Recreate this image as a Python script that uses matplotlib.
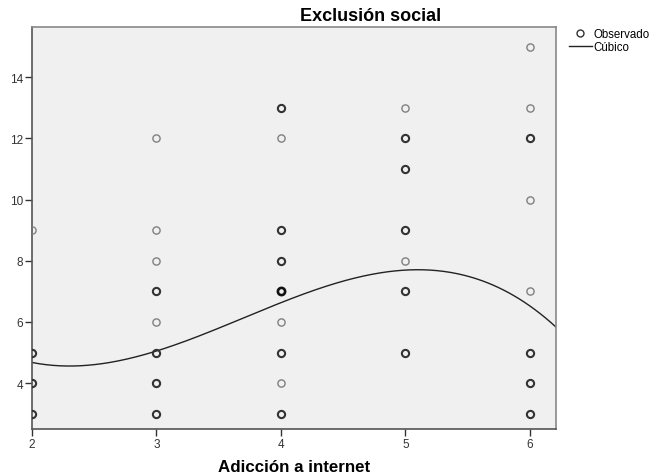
import numpy as np
import matplotlib
matplotlib.use("Agg")
import matplotlib.pyplot as plt
from matplotlib.lines import Line2D

plt.rcParams['font.family'] = ['Liberation Sans', 'DejaVu Sans']

# observed points (x, y) and how heavy the marker looks (1 = single, 2 = overlapping)
obs_x = [2, 2, 2, 2,
         3, 3, 3, 3, 3, 3, 3, 3,
         4, 4, 4, 4, 4, 4, 4, 4, 4,
         5, 5, 5, 5, 5, 5, 5,
         6, 6, 6, 6, 6, 6, 6, 6]
obs_y = [9, 5, 4, 3,
         12, 9, 8, 7, 6, 5, 4, 3,
         13, 12, 9, 8, 7, 6, 5, 4, 3,
         13, 12, 11, 9, 8, 7, 5,
         15, 13, 12, 10, 7, 5, 4, 3]
obs_n = [1, 2, 2, 2,
         1, 1, 1, 2, 1, 2, 2, 2,
         2, 1, 2, 2, 3, 1, 2, 1, 2,
         1, 2, 2, 2, 1, 2, 2,
         1, 1, 2, 1, 1, 2, 2, 2]

# points
curve_x = [2.0, 2.3, 3.0, 4.0, 5.1, 6.21]
curve_y = [4.68, 4.57, 5.0, 6.69, 7.67, 5.84]

xticks = [2, 3, 4, 5, 6]
yticks = [4, 6, 8, 10, 12, 14]

fig = plt.figure(figsize=(6.6, 4.77), dpi=100)
ax = fig.add_axes([0.0485, 0.0985, 0.7939, 0.8435])
ax.set_facecolor('#f0f0f0')

obs_x = np.array(obs_x)
obs_y = np.array(obs_y)
obs_n = np.array(obs_n)
styles = {1: ('#808080', 1.0), 2: ('#333333', 1.5), 3: ('#111111', 1.9)}
for n, (col, lw) in styles.items():
    m = obs_n == n
    ax.plot(obs_x[m], obs_y[m], 'o', mfc='none', mec=col, mew=lw, ms=5.2,
            linestyle='none', clip_on=True, zorder=3)

coef = np.polyfit(curve_x, curve_y, 3)
xs = np.linspace(2.0, 6.21, 300)
ax.plot(xs, np.polyval(coef, xs), color='#222222', lw=1.0, zorder=2)

ax.set_xlim(2.0, 6.21)
ax.set_ylim(2.5, 15.65)
ax.set_xticks(xticks)
ax.set_yticks(yticks)
ax.tick_params(axis='both', direction='out', length=5, width=1,
               labelsize=8.5, colors='#333333', pad=1.5)
for s in ['left', 'bottom']:
    ax.spines[s].set_color('#555555')
    ax.spines[s].set_linewidth(1.2)
for s in ['top', 'right']:
    ax.spines[s].set_color('#888888')
    ax.spines[s].set_linewidth(1.2)

fig.text(0.562, 0.966, 'Exclusión social', ha='center', va='center',
         fontsize=13, fontweight='bold')
fig.text(0.445, 0.019, 'Adicción a internet', ha='center', va='center',
         fontsize=12.2, fontweight='bold')

handles = [Line2D([], [], marker='o', mfc='none', mec='#333333', ms=5,
                  linestyle='none'),
           Line2D([], [], color='#222222', lw=1)]
fig.legend(handles, ['Observado', 'Cúbico'], loc='upper left',
           bbox_to_anchor=(0.862, 0.94), frameon=False, fontsize=8.3,
           handlelength=2.0, handletextpad=0.1, labelspacing=0.1,
           borderaxespad=0, borderpad=0)

fig.savefig('out.png', dpi=100)
